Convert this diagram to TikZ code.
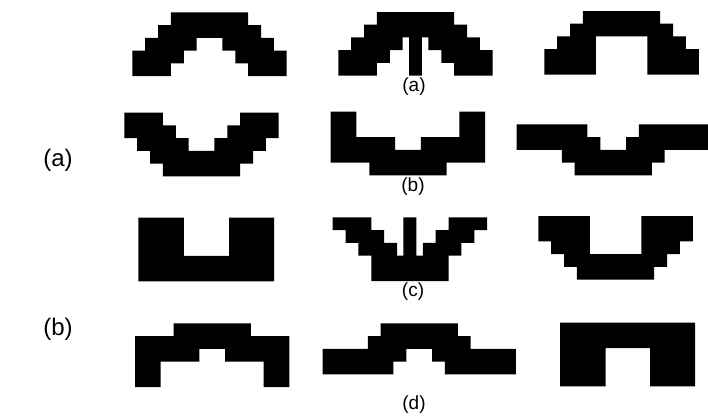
\documentclass[tikz,border=0pt]{standalone}
\usepackage{fontspec}
\setmainfont{Liberation Sans}
\begin{document}
\begin{tikzpicture}[x=1pt,y=-1pt]
\tikzset{
  blob/.style={fill=black},
  sublabel/.style={font=\fontsize{19}{21}\selectfont, inner sep=0pt},
  mainlabel/.style={font=\fontsize{24}{27}\selectfont, inner sep=0pt},
  grid/.style={x=12.87pt, y=-12.74pt}
}
\useasboundingbox[fill=white] (0,0) rectangle (708,416);

% ---- row (a)
\begin{scope}[xshift=132.3pt, yshift=-12.3pt, grid]
\fill[blob] (3,0) rectangle (9,1) (2,1) rectangle (10,2)
  (1,2) rectangle (5,3) (7,2) rectangle (11,3)
  (0,3) rectangle (4,4) (8,3) rectangle (12,4)
  (0,4) rectangle (3,5) (9,4) rectangle (12,5);
\end{scope}
\begin{scope}[xshift=338.3pt, yshift=-12pt, grid]
\fill[blob] (3,0) rectangle (9,1) (2,1) rectangle (10,2)
  (1,2) rectangle (5,3) (7,2) rectangle (11,3)
  (0,3) rectangle (4,4) (8,3) rectangle (12,4)
  (0,4) rectangle (3,5) (9,4) rectangle (12,5)
  (5.5,2) rectangle (6.5,5);
\end{scope}
\begin{scope}[xshift=544.3pt, yshift=-11pt, grid]
\fill[blob] (3,0) rectangle (9,1) (2,1) rectangle (10,2)
  (1,2) rectangle (4,3) (8,2) rectangle (11,3)
  (0,3) rectangle (4,5) (8,3) rectangle (12,5);
\end{scope}
\node[sublabel] (la) at (414,87) {(a)};

% ---- row (b)
\begin{scope}[xshift=124.3pt, yshift=-112.7pt, grid]
\fill[blob] (0,0) rectangle (3,1) (9,0) rectangle (12,1)
  (0,1) rectangle (4,2) (8,1) rectangle (12,2)
  (1,2) rectangle (5,3) (7,2) rectangle (11,3)
  (2,3) rectangle (10,4) (3,4) rectangle (9,5);
\end{scope}
\begin{scope}[xshift=330.7pt, yshift=-111.7pt, grid]
\fill[blob] (0,0) rectangle (2,2) (10,0) rectangle (12,2)
  (0,2) rectangle (5,3) (7,2) rectangle (12,3)
  (0,3) rectangle (12,4) (3,4) rectangle (9,5);
\end{scope}
\begin{scope}[xshift=516.7pt, yshift=-124.3pt, grid]
\fill[blob] (0,0) rectangle (5.5,1) (9.5,0) rectangle (15,1)
  (0,1) rectangle (6.5,2) (8.5,1) rectangle (15,2)
  (3.5,2) rectangle (11.5,3) (4.5,3) rectangle (10.5,4);
\end{scope}
\node[sublabel] (lb) at (413,187) {(b)};

% ---- row (c)
\begin{scope}[xshift=138.3pt, yshift=-217.7pt, grid]
\fill[blob] (0,0) rectangle (3.55,3) (7.05,0) rectangle (10.55,3)
  (0,3) rectangle (10.55,5);
\end{scope}
\begin{scope}[xshift=332.7pt, yshift=-217.3pt, grid]
\fill[blob] (0,0) rectangle (3,1) (9,0) rectangle (12,1)
  (1,1) rectangle (4,2) (8,1) rectangle (11,2)
  (2,2) rectangle (5,3) (7,2) rectangle (10,3)
  (3,3) rectangle (9,5)
  (5.5,0) rectangle (6.5,3);
\end{scope}
\begin{scope}[xshift=538.3pt, yshift=-216pt, grid]
\fill[blob] (0,0) rectangle (4,2) (8,0) rectangle (12,2)
  (1,2) rectangle (4,3) (8,2) rectangle (11,3)
  (2,3) rectangle (10,4) (3,4) rectangle (9,5);
\end{scope}
\node[sublabel] (lc) at (413,292) {(c)};

% ---- row (d)
\begin{scope}[xshift=135pt, yshift=-323.3pt, grid]
\fill[blob] (3,0) rectangle (9,1) (0,1) rectangle (12,2)
  (0,2) rectangle (5,3) (7,2) rectangle (12,3)
  (0,3) rectangle (2,5) (10,3) rectangle (12,5);
\end{scope}
\begin{scope}[xshift=322.7pt, yshift=-323.3pt, grid]
\fill[blob] (4.5,0) rectangle (10.5,1) (3.5,1) rectangle (11.5,2)
  (0,2) rectangle (6.5,3) (8.5,2) rectangle (15,3)
  (0,3) rectangle (5.5,4) (9.5,3) rectangle (15,4);
\end{scope}
\begin{scope}[xshift=560pt, yshift=-322.7pt, grid]
\fill[blob] (0,0) rectangle (10.5,2)
  (0,2) rectangle (3.55,5) (7,2) rectangle (10.5,5);
\end{scope}
\node[sublabel] (ld) at (414,405) {(d)};

% ---- side labels
\node[mainlabel] (sa) at (58,160) {(a)};
\node[mainlabel] (sb) at (58,329) {(b)};
\end{tikzpicture}
\end{document}
